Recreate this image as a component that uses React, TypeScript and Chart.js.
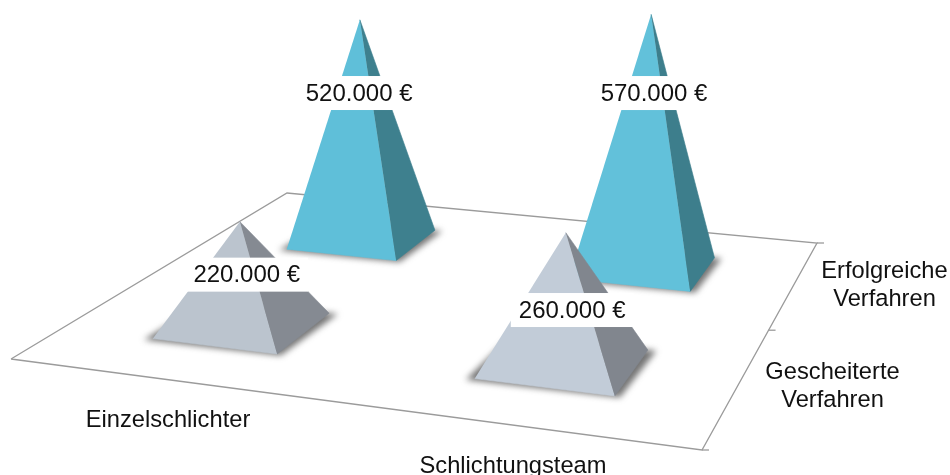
import React, { useEffect, useRef } from "react";
import { Chart, registerables } from "chart.js";

Chart.register(...registerables);

// ---- data ----
const categories = ["Einzelschlichter", "Schlichtungsteam"];
const outcomes = [
  ["Gescheiterte", "Verfahren"],
  ["Erfolgreiche", "Verfahren"],
];
const failedValues = [220000, 260000];
const successValues = [520000, 570000];

// ---- scene (camera) ----
const W = 950;
const H = 475;
// floor homography: unit square -> page units
const floorCorners = [
  [11, 359],
  [702, 450],
  [817, 243],
  [287, 193],
];
const heightPerEuro = 5.27e-4;
const heightZero = -6.5;
const leanCentreX = 430;
const leanFactor = 1.5e-4;
const baseHalf = 0.1;
const tickLength = 7;

const palette = {
  floor: "#9b9b9b",
  failedLight: ["#BBC4CE", "#C2CCD8"],
  failedDark: ["#858A92", "#81868E"],
  successLight: ["#5FBFD9", "#62C1DA"],
  successDark: ["#3E808E", "#3D7E8C"],
};

// label placement relative to pyramid base centre [dx, lift] per [row][col]
const labelPlacement = [
  [
    [4, 51],
    [9, 54],
  ],
  [
    [-3, 146.5],
    [11, 175],
  ],
];

const axisLabelPlacement = {
  categories: [
    { x: 168, y: 427 },
    { x: 513, y: 473 },
  ],
  outcomes: [
    { x: 832.5, y: 379 },
    { x: 884.5, y: 278 },
  ],
};

function makeProjection() {
  const [[x0, y0], [x1, y1], [x2, y2], [x3, y3]] = floorCorners;
  const dx1 = x1 - x2;
  const dx2 = x3 - x2;
  const sx = x0 - x1 + x2 - x3;
  const dy1 = y1 - y2;
  const dy2 = y3 - y2;
  const sy = y0 - y1 + y2 - y3;
  const det = dx1 * dy2 - dx2 * dy1;
  const g = (sx * dy2 - dx2 * sy) / det;
  const h = (dx1 * sy - sx * dy1) / det;
  const a = x1 - x0 + g * x1;
  const b = x3 - x0 + h * x3;
  const d = y1 - y0 + g * y1;
  const e = y3 - y0 + h * y3;
  return (u: number, v: number) => {
    const w = g * u + h * v + 1;
    return { x: (a * u + b * v + x0) / w, y: (d * u + e * v + y0) / w, w };
  };
}

const project = makeProjection();

const faceBase = {
  type: "scatter" as const,
  showLine: true,
  pointRadius: 0,
  pointHoverRadius: 0,
  tension: 0,
  clip: false,
};

function polygon(points: { x: number; y: number }[], color: string) {
  return {
    ...faceBase,
    data: points.map((p) => ({ x: p.x, y: p.y })),
    fill: "shape",
    backgroundColor: color,
    borderColor: color,
    borderWidth: 0.6,
  };
}

function polyline(points: { x: number; y: number }[], color: string, width: number) {
  return {
    ...faceBase,
    data: points.map((p) => ({ x: p.x, y: p.y })),
    fill: false,
    borderColor: color,
    borderWidth: width,
  };
}

function floorDatasets() {
  const loop = [project(0, 0), project(1, 0), project(1, 1), project(0, 1), project(0, 0)];
  const sets: any[] = [polyline(loop, palette.floor, 1.3)];
  outcomes.concat([[]]).forEach((_, i) => {
    const p = project(1, i / outcomes.length);
    sets.push(polyline([p, { x: p.x + tickLength, y: p.y }], palette.floor, 1.3));
  });
  return sets;
}

function pyramid(value: number, col: number, row: number, light: string, dark: string) {
  const u = (col + 0.5) / categories.length;
  const v = (row + 0.5) / outcomes.length;
  const c = project(u, v);
  const height = (value * heightPerEuro + heightZero) / c.w;
  const apex = {
    x: c.x + (c.x - leanCentreX) * leanFactor * height,
    y: c.y - height,
  };
  const left = project(u - baseHalf, v - baseHalf);
  const front = project(u + baseHalf, v - baseHalf);
  const right = project(u + baseHalf, v + baseHalf);
  const back = project(u - baseHalf, v + baseHalf);
  const shadowPoints = [left, front, right, back].map((p) => ({
    x: c.x + (p.x - c.x) * 1.1,
    y: c.y + (p.y - c.y) * 1.02 + 1,
  }));
  const [dx, lift] = labelPlacement[row][col];
  return {
    shadow: {
      ...faceBase,
      data: shadowPoints,
      showLine: false,
      isShadow: true,
    },
    faces: [polygon([left, front, apex], light), polygon([front, right, apex], dark)],
    label: { x: c.x + dx, y: c.y - lift, text: value },
  };
}

const formatEuro = (n: number) => String(n).replace(/\B(?=(\d{3})+$)/g, ".") + " €";

export default function App() {
  const ref = useRef<HTMLCanvasElement>(null);

  useEffect(() => {
    const canvas = ref.current;
    if (!canvas) return;

    const pyramids = [
      ...successValues.map((val, i) =>
        pyramid(val, i, 1, palette.successLight[i], palette.successDark[i])
      ),
      ...failedValues.map((val, i) =>
        pyramid(val, i, 0, palette.failedLight[i], palette.failedDark[i])
      ),
    ];

    // painter's order: Chart.js paints datasets with the highest `order` first
    const painted: any[] = [
      ...pyramids.map((p) => p.shadow),
      ...floorDatasets(),
      ...pyramids.flatMap((p) => p.faces),
    ];
    const datasets = painted.map((ds, i) => ({ ...ds, order: painted.length - i }));

    const sceneText = {
      id: "sceneText",
      beforeDatasetsDraw(chart: any) {
        const ctx = chart.ctx;
        chart.data.datasets.forEach((ds: any, i: number) => {
          if (!ds.isShadow) return;
          const pts = chart.getDatasetMeta(i).data;
          ctx.save();
          ctx.filter = "blur(3px)";
          ctx.fillStyle = "rgba(70,70,70,0.75)";
          ctx.beginPath();
          pts.forEach((p: any, k: number) => (k ? ctx.lineTo(p.x, p.y) : ctx.moveTo(p.x, p.y)));
          ctx.closePath();
          ctx.fill();
          ctx.restore();
        });
      },
      afterDatasetsDraw(chart: any) {
        const ctx = chart.ctx;
        const xs = chart.scales.x;
        const ys = chart.scales.y;
        ctx.save();
        ctx.textAlign = "center";
        ctx.textBaseline = "middle";
        ctx.font = '24px "Liberation Sans", Arial, sans-serif';
        pyramids.forEach((p) => {
          const text = formatEuro(p.label.text);
          const px = xs.getPixelForValue(p.label.x);
          const py = ys.getPixelForValue(p.label.y);
          const w = ctx.measureText(text).width + 16;
          ctx.fillStyle = "#ffffff";
          ctx.fillRect(px - w / 2, py - 17, w, 34);
          ctx.fillStyle = "#111111";
          ctx.fillText(text, px, py + 1);
        });
        ctx.textBaseline = "alphabetic";
        ctx.font = '23.7px "Liberation Sans", Arial, sans-serif';
        ctx.fillStyle = "#111111";
        categories.forEach((c, i) => {
          const pos = axisLabelPlacement.categories[i];
          ctx.fillText(c, xs.getPixelForValue(pos.x), ys.getPixelForValue(pos.y));
        });
        outcomes.forEach((lines, i) => {
          const pos = axisLabelPlacement.outcomes[i];
          lines.forEach((line, k) => {
            ctx.fillText(line, xs.getPixelForValue(pos.x), ys.getPixelForValue(pos.y + k * 28));
          });
        });
        ctx.restore();
      },
    };

    const chart = new Chart(canvas, {
      type: "scatter",
      data: { datasets },
      options: {
        animation: false,
        responsive: false,
        events: [],
        layout: { padding: 0 },
        plugins: { legend: { display: false }, tooltip: { enabled: false }, title: { display: false } },
        scales: {
          x: { type: "linear", min: 0, max: W, display: false },
          y: { type: "linear", min: 0, max: H, reverse: true, display: false },
        },
      },
      plugins: [sceneText],
    } as any);

    return () => chart.destroy();
  }, []);

  return (
    <div style={{ position: "absolute", left: 0, top: 0, width: W, height: H, background: "#fff" }}>
      <canvas ref={ref} width={W} height={H} style={{ display: "block", width: W, height: H }} />
    </div>
  );
}
